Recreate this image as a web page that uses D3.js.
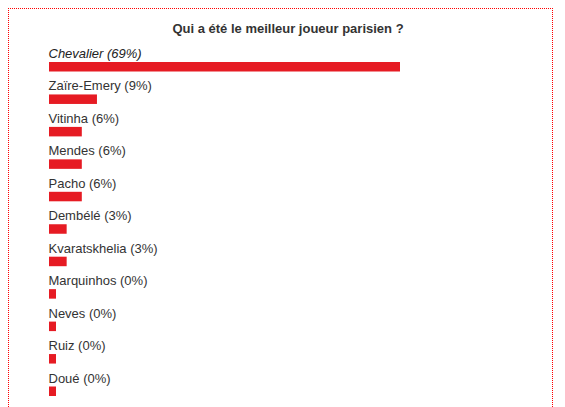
<!DOCTYPE html>
<html lang="fr">
<head>
  <meta charset="UTF-8">
  <script src="https://cdn.jsdelivr.net/npm/d3@7"></script>
  <title>Sondage</title>
  <style>
    body { margin: 0; background: #fff; }
    text { font-family: "Liberation Sans", Arial, sans-serif; fill: #333; }
  </style>
</head>
<body>
  <svg width="565" height="407"></svg>
  <script>
    // données du sondage
    var title = "Qui a été le meilleur joueur parisien ?";
    var players = ["Chevalier", "Zaïre-Emery", "Vitinha", "Mendes", "Pacho", "Dembélé",
                   "Kvaratskhelia", "Marquinhos", "Neves", "Ruiz", "Doué"];
    var percents = [69, 9, 6, 6, 6, 3, 3, 0, 0, 0, 0];

    var svg = d3.select("svg");
    var width = +svg.attr("width");
    var height = +svg.attr("height");

    // cadre pointillé rouge (pas de bord bas visible)
    var borders = ["M8,8.5H553", "M8.5,8V" + height, "M552.5,8V" + height];
    svg.selectAll(".cadre").data(borders).enter().append("path")
      .attr("class", "cadre")
      .attr("d", function(d){ return d; })
      .attr("fill", "none")
      .attr("stroke", "#ff0000")
      .attr("stroke-width", 1)
      .attr("stroke-dasharray", "1,1");

    svg.append("text")
      .attr("x", 288)
      .attr("y", 33)
      .attr("text-anchor", "middle")
      .style("font-size", "13px")
      .style("font-weight", "bold")
      .text(title);

    var data = players.map(function(p, i){ return {name: p, value: percents[i]}; });

    var y = d3.scaleBand()
      .domain(players)
      .range([62, 62 + players.length * 32.45])
      .paddingInner(0);

    var x = d3.scaleLinear()
      .domain([0, d3.max(percents)])
      .range([2.5, 351]);

    var left = 49, minW = 7;

    var gs = svg.selectAll(".row").data(data).enter().append("g").attr("class", "row");

    gs.append("rect")
      .attr("x", left)
      .attr("y", function(d){ return y(d.name); })
      .attr("width", function(d){ return Math.max(minW, x(d.value)); })
      .attr("height", 9.5)
      .attr("fill", "#e61b23");

    gs.append("text")
      .attr("x", left - 0.5)
      .attr("y", function(d){ return y(d.name) - 4; })
      .style("font-size", "13px")
      .style("font-style", function(d, i){ return i === 0 ? "italic" : "normal"; })
      .style("fill", function(d, i){ return i === 0 ? "#222" : "#333"; })
      .text(function(d){ return d.name + " (" + d.value + "%)"; });
  </script>
</body>
</html>
